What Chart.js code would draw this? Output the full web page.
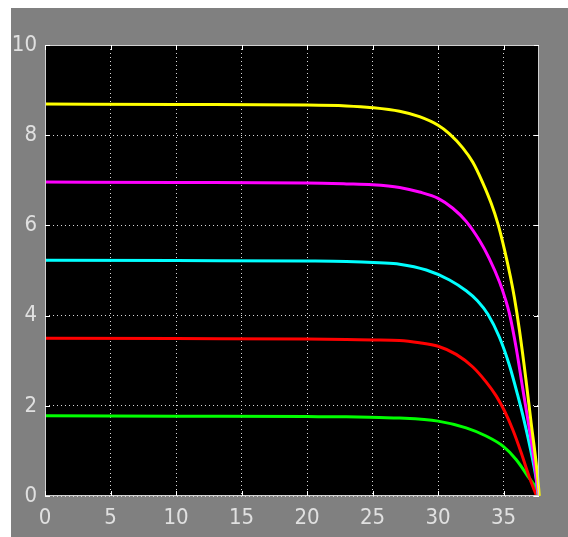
<!DOCTYPE html>
<html>
<head>
<meta charset="utf-8">
<script src="https://cdn.jsdelivr.net/npm/chart.js@4.4.1/dist/chart.umd.min.js"></script>
<style>
  html, body { margin: 0; padding: 0; background: #ffffff; }
  #wrap { width: 568px; height: 537px; }
</style>
</head>
<body>
<div id="wrap"><canvas id="canvas1"></canvas></div>
<script>
// I-V curves (volts / amps)
const vYellow = [0, 10, 20, 23, 25, 27.06, 28.58, 30.0, 30.87, 31.88, 32.65, 33.4, 34.05, 34.55, 35.06, 35.52, 35.82, 36.2, 36.7, 37.1, 37.48, 37.68, 37.72];
const iYellow = [8.69, 8.68, 8.67, 8.65, 8.61, 8.53, 8.41, 8.22, 8.03, 7.72, 7.40, 6.95, 6.49, 6.05, 5.47, 4.86, 4.40, 3.69, 2.59, 1.62, 0.74, 0.15, 0];

const vMagenta = [0, 10, 20, 23, 25, 27.06, 28.58, 30.0, 31.12, 32.14, 33.15, 33.9, 34.68, 35.14, 35.44, 35.95, 36.46, 36.97, 37.35, 37.6, 37.68];
const iMagenta = [6.96, 6.95, 6.94, 6.92, 6.90, 6.84, 6.74, 6.60, 6.38, 6.09, 5.67, 5.27, 4.75, 4.36, 4.05, 3.30, 2.38, 1.48, 0.74, 0.15, 0];

const vCyan = [0, 10, 20, 23, 25.5, 27.06, 29.1, 30.87, 32.14, 33.0, 33.8, 34.68, 35.44, 36.07, 36.59, 37.1, 37.48, 37.64];
const iCyan = [5.23, 5.22, 5.21, 5.20, 5.17, 5.14, 5.01, 4.79, 4.55, 4.33, 4.03, 3.52, 2.90, 2.24, 1.64, 0.97, 0.38, 0];

const vRed = [0, 10, 20, 23, 25, 27.06, 28.58, 30.0, 31.38, 32.65, 33.66, 34.43, 35.06, 35.7, 36.33, 36.97, 37.52];
const iRed = [3.50, 3.49, 3.48, 3.47, 3.46, 3.45, 3.40, 3.32, 3.14, 2.86, 2.53, 2.22, 1.89, 1.47, 0.97, 0.41, 0];

const vGreen = [0, 10, 20, 23, 25.5, 27.06, 30.0, 32.14, 33.66, 34.93, 35.95, 36.84, 37.6, 37.65];
const iGreen = [1.78, 1.77, 1.76, 1.755, 1.74, 1.73, 1.66, 1.51, 1.33, 1.11, 0.81, 0.44, 0.07, 0];

const xTicks = [0, 5, 10, 15, 20, 25, 30, 35];
const yTicks = [0, 2, 4, 6, 8, 10];
const xMax = 37.7;
const yMax = 10;

function pts(xs, ys) {
    return xs.map((x, i) => ({ x: x, y: ys[i] }));
}

function curve(xs, ys, color) {
    return {
        data: pts(xs, ys),
        borderColor: color,
        backgroundColor: color,
        borderWidth: 3,
        pointRadius: 0,
        showLine: true,
        cubicInterpolationMode: 'monotone',
        fill: false,
        clip: 4
    };
}

// grey figure frame + black axes box, MATLAB style
const figureBg = {
    id: 'figureBg',
    beforeDraw(chart) {
        const ctx = chart.ctx, a = chart.chartArea;
        ctx.save();
        ctx.fillStyle = '#ffffff';
        ctx.fillRect(0, 0, chart.width, chart.height);
        ctx.fillStyle = '#808080';
        ctx.fillRect(11, 8, chart.width - 11, chart.height - 8);
        ctx.fillStyle = '#000000';
        ctx.fillRect(a.left, a.top, a.right - a.left, a.bottom - a.top);
        ctx.restore();
    },
    afterDatasetsDraw(chart) {
        const ctx = chart.ctx, a = chart.chartArea;
        const sx = chart.scales.x, sy = chart.scales.y;
        ctx.save();
        ctx.strokeStyle = '#d0d0d0';
        ctx.lineWidth = 1;
        ctx.strokeRect(a.left + 0.5, a.top + 0.5, a.right - a.left - 1, a.bottom - a.top - 1);
        ctx.strokeStyle = '#ffffff';
        ctx.beginPath();
        xTicks.forEach(v => {
            const px = Math.round(sx.getPixelForValue(v)) + 0.5;
            ctx.moveTo(px, a.bottom); ctx.lineTo(px, a.bottom - 5);
            ctx.moveTo(px, a.top); ctx.lineTo(px, a.top + 5);
        });
        yTicks.forEach(v => {
            const py = Math.round(sy.getPixelForValue(v)) + 0.5;
            ctx.moveTo(a.left, py); ctx.lineTo(a.left + 5, py);
            ctx.moveTo(a.right, py); ctx.lineTo(a.right - 5, py);
        });
        ctx.stroke();
        ctx.restore();
    }
};

const tickFont = { family: '"Liberation Sans Narrow", "DejaVu Sans Condensed", sans-serif', size: 22 };

const config = {
    type: 'scatter',
    data: {
        datasets: [
            curve(vYellow, iYellow, '#ffff00'),
            curve(vMagenta, iMagenta, '#ff00ff'),
            curve(vCyan, iCyan, '#00ffff'),
            curve(vRed, iRed, '#ff0000'),
            curve(vGreen, iGreen, '#00ff00')
        ]
    },
    options: {
        responsive: true,
        maintainAspectRatio: false,
        animation: false,
        layout: { padding: { left: 11, top: 45, right: 29, bottom: 0 } },
        plugins: {
            legend: { display: false },
            tooltip: { enabled: false }
        },
        scales: {
            x: {
                type: 'linear',
                min: 0,
                max: xMax,
                afterBuildTicks: s => { s.ticks = xTicks.map(v => ({ value: v })); },
                afterFit: s => { s.height = 41; },
                grid: { color: '#d8d8d8', drawTicks: false, tickLength: 0 },
                border: { display: false, dash: [1, 3] },
                ticks: { color: '#e0e0e0', font: tickFont, padding: 9, maxRotation: 0 }
            },
            y: {
                type: 'linear',
                min: 0,
                max: yMax,
                afterBuildTicks: s => { s.ticks = yTicks.map(v => ({ value: v })); },
                afterFit: s => { s.width = 34; },
                grid: { color: '#d8d8d8', drawTicks: false, tickLength: 0 },
                border: { display: false, dash: [1, 3] },
                ticks: { color: '#e0e0e0', font: tickFont, padding: 8 }
            }
        }
    },
    plugins: [figureBg]
};

var canvas = document.getElementById('canvas1');
const chart = new Chart(canvas, config);
window.addEventListener('resize', function () { chart.resize() })
</script>
</body>
</html>
